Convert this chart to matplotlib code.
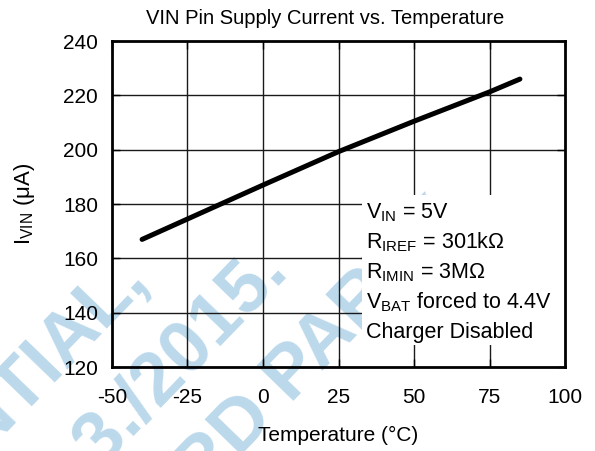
import matplotlib
matplotlib.use('Agg')
import matplotlib.pyplot as plt
from matplotlib.patches import Rectangle

plt.rcParams['font.family'] = ['Liberation Sans', 'DejaVu Sans']
plt.rcParams['mathtext.fontset'] = 'custom'
plt.rcParams['mathtext.rm'] = 'Liberation Sans'
plt.rcParams['mathtext.default'] = 'regular'
plt.rcParams['axes.unicode_minus'] = False

# data
temps = [-40, -25, 0, 25, 50, 75, 85]
i_vin = [167.0, 174.5, 187.0, 199.3, 210.5, 221.3, 226.0]

x_ticks = [-50, -25, 0, 25, 50, 75, 100]
y_ticks = [120, 140, 160, 180, 200, 220, 240]

notes = [
    'V$_{IN}$ = 5V',
    'R$_{IREF}$ = 301kΩ',
    'R$_{IMIN}$ = 3MΩ',
    'V$_{BAT}$ forced to 4.4V',
    'Charger Disabled',
]

fig = plt.figure(figsize=(5.95, 4.51), dpi=100)

# faint document watermark behind the chart
wm = dict(rotation=46, rotation_mode='anchor', fontsize=54, fontweight='bold',
          color='#bcd9ec', zorder=-5)
fig.text(0.228, 0.408, 'CONFIDENTIAL,', ha='right', va='center', **wm)
fig.text(0.464, 0.424, 'NDA 3./2015.', ha='right', va='center', **wm)
fig.text(0.314, -0.071, 'RD PARTY', ha='left', va='center', **wm)

ax = fig.add_axes([0.188, 0.186, 0.762, 0.723])
ax.set_facecolor('none')

for x in x_ticks[1:-1]:
    ax.axvline(x, color='#1a1a1a', lw=1.0, zorder=1)
for y in y_ticks[1:-1]:
    ax.axhline(y, color='#1a1a1a', lw=1.0, zorder=1)

ax.plot(temps, i_vin, color='black', lw=3.6, solid_capstyle='round', zorder=4)

ax.set_xlim(-50, 100)
ax.set_ylim(120, 240)
ax.set_xticks(x_ticks)
ax.set_yticks(y_ticks)
ax.tick_params(direction='in', length=6, width=1.0, top=True, right=True,
               labelsize=15, colors='black')
ax.tick_params(axis='x', pad=15)
ax.tick_params(axis='y', pad=10)
for s in ax.spines.values():
    s.set_linewidth(2.0)

fig.text(0.546, 0.96, 'VIN Pin Supply Current vs. Temperature', fontsize=14.5,
         ha='center', va='center')
ax.set_xlabel('Temperature (°C)', fontsize=15, labelpad=14)
ax.set_ylabel('I$_{VIN}$ (μA)', fontsize=16, labelpad=19)

# white panel behind the conditions text
ax.add_patch(Rectangle((0.552, 0.067), 0.448, 0.461, transform=ax.transAxes,
                       facecolor='white', edgecolor='none', zorder=2))
base_y = 0.457
for k, line in enumerate(notes):
    ax.text(0.561, base_y - k * 0.092, line, transform=ax.transAxes,
            fontsize=15.5, ha='left', va='baseline', zorder=3)

fig.savefig('out.png', dpi=100)
